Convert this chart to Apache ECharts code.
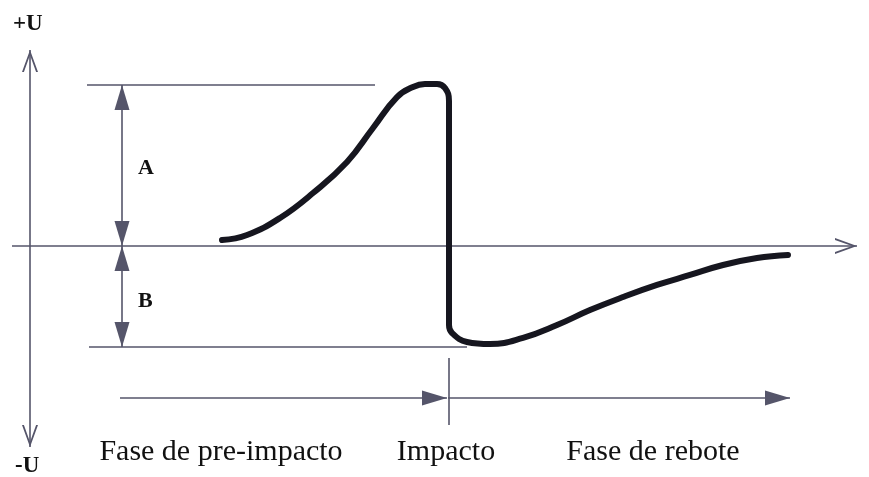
<!DOCTYPE html>
<html>
<head>
<meta charset="utf-8">
<script src="https://cdn.jsdelivr.net/npm/echarts@6/dist/echarts.min.js"></script>
<style>
  html, body { margin: 0; padding: 0; background: #ffffff; }
  #chart { width: 869px; height: 477px; }
</style>
</head>
<body>
<div id="chart"></div>
<script>
// time relative to the impact (t = 0), signal in units of A
var curveT = [-226, -201, -168, -135, -101, -75, -51, -35, -23, -11, -3, 1,
              1, 4, 19, 42, 75, 109, 142, 175, 209, 242, 275, 309, 340];
var curveU = [0.037, 0.068, 0.174, 0.329, 0.522, 0.733, 0.925, 0.988, 1.006, 1.006, 0.981, 0.901,
              -0.491, -0.540, -0.596, -0.609, -0.571, -0.491, -0.398, -0.317, -0.242, -0.180, -0.118, -0.075, -0.056];

// reference levels: A (peak) and B (rebound minimum)
var levelA = 1.0;
var levelB = -0.627;
var impactT = 0;

// axes extents
var axisT = [-436, 409];       // horizontal axis from / to
var axisU = [-1.248, 1.217];   // vertical axis from / to
var axisX = -418;              // where the vertical axis sits

// reference lines [from t, to t]
var lineA = [-361, -73];
var lineB = [-359, 19];
var dimT = -326;               // A / B dimension arrows

// phase arrows row
var phaseU = -0.944;
var phaseStart = -328;
var phaseEnd = 342;
var tickU = [-0.696, -1.112];

var phaseLabels = ['Fase de pre-impacto', 'Impacto', 'Fase de rebote'];

var serif = '"Liberation Serif", "DejaVu Serif", serif';
var thin = '#55556a';
var chevron = 'path://M0,0 L10,20 L7.6,20 L0,4.5 L-7.6,20 L-10,20 Z';

var chart = echarts.init(document.getElementById('chart'), null, { renderer: 'canvas' });

function end(coord, symbol, size) {
    if (!symbol) {
        return { coord: coord, symbol: 'none' };
    }
    // put the tip of the head on the end point
    return { coord: coord, symbol: symbol, symbolSize: size, symbolOffset: [0, size[1] / 2] };
}

function seg(a, b, s0, s1, size0, size1) {
    return [end(a, s0, size0), end(b, s1, size1)];
}

var tri = [15, 25];
var chev = [16, 22];

var marks = [
    seg([axisT[0], 0], [axisT[1], 0], null, chevron, null, chev),
    seg([axisX, axisU[0]], [axisX, axisU[1]], chevron, chevron, chev, chev),
    seg([lineA[0], levelA], [lineA[1], levelA]),
    seg([lineB[0], levelB], [lineB[1], levelB]),
    seg([dimT, 0], [dimT, levelA], 'triangle', 'triangle', tri, tri),
    seg([dimT, 0], [dimT, levelB], 'triangle', 'triangle', tri, tri),
    seg([phaseStart, phaseU], [impactT - 1, phaseU], null, 'triangle', null, tri),
    seg([impactT, phaseU], [phaseEnd, phaseU], null, 'triangle', null, tri),
    seg([impactT + 1, tickU[0]], [impactT + 1, tickU[1]])
];

var option = {
    animation: false,
    backgroundColor: '#ffffff',
    grid: { left: 0, right: 0, top: 0, bottom: 0 },
    xAxis: { type: 'value', min: -448, max: 421, show: false },
    yAxis: { type: 'value', min: -1.4348, max: 1.528, show: false },
    series: [
        {
            type: 'line',
            data: curveT.map(function (t, i) { return [t, curveU[i]]; }),
            smooth: 0.45,
            showSymbol: false,
            clip: false,
            z: 5,
            lineStyle: { color: '#16161f', width: 6, cap: 'round', join: 'round' },
            markLine: {
                silent: true,
                animation: false,
                label: { show: false },
                lineStyle: { color: thin, width: 1.6, type: 'solid' },
                emphasis: { disabled: true },
                data: marks
            }
        }
    ],
    graphic: [
        { type: 'text', left: 13, top: 13, style: { text: '+U', font: 'bold 23px ' + serif, fill: '#111' } },
        { type: 'text', left: 15, top: 455, style: { text: '-U', font: 'bold 23px ' + serif, fill: '#111' } },
        { type: 'text', left: 138, top: 157, style: { text: 'A', font: 'bold 22px ' + serif, fill: '#111' } },
        { type: 'text', left: 138, top: 290, style: { text: 'B', font: 'bold 22px ' + serif, fill: '#111' } },
        { type: 'text', x: 221, y: 452, style: { text: phaseLabels[0], font: '30px ' + serif, fill: '#111', align: 'center', verticalAlign: 'middle' } },
        { type: 'text', x: 446, y: 452, style: { text: phaseLabels[1], font: '30px ' + serif, fill: '#111', align: 'center', verticalAlign: 'middle' } },
        { type: 'text', x: 653, y: 452, style: { text: phaseLabels[2], font: '30px ' + serif, fill: '#111', align: 'center', verticalAlign: 'middle' } }
    ]
};

chart.setOption(option);
</script>
</body>
</html>
